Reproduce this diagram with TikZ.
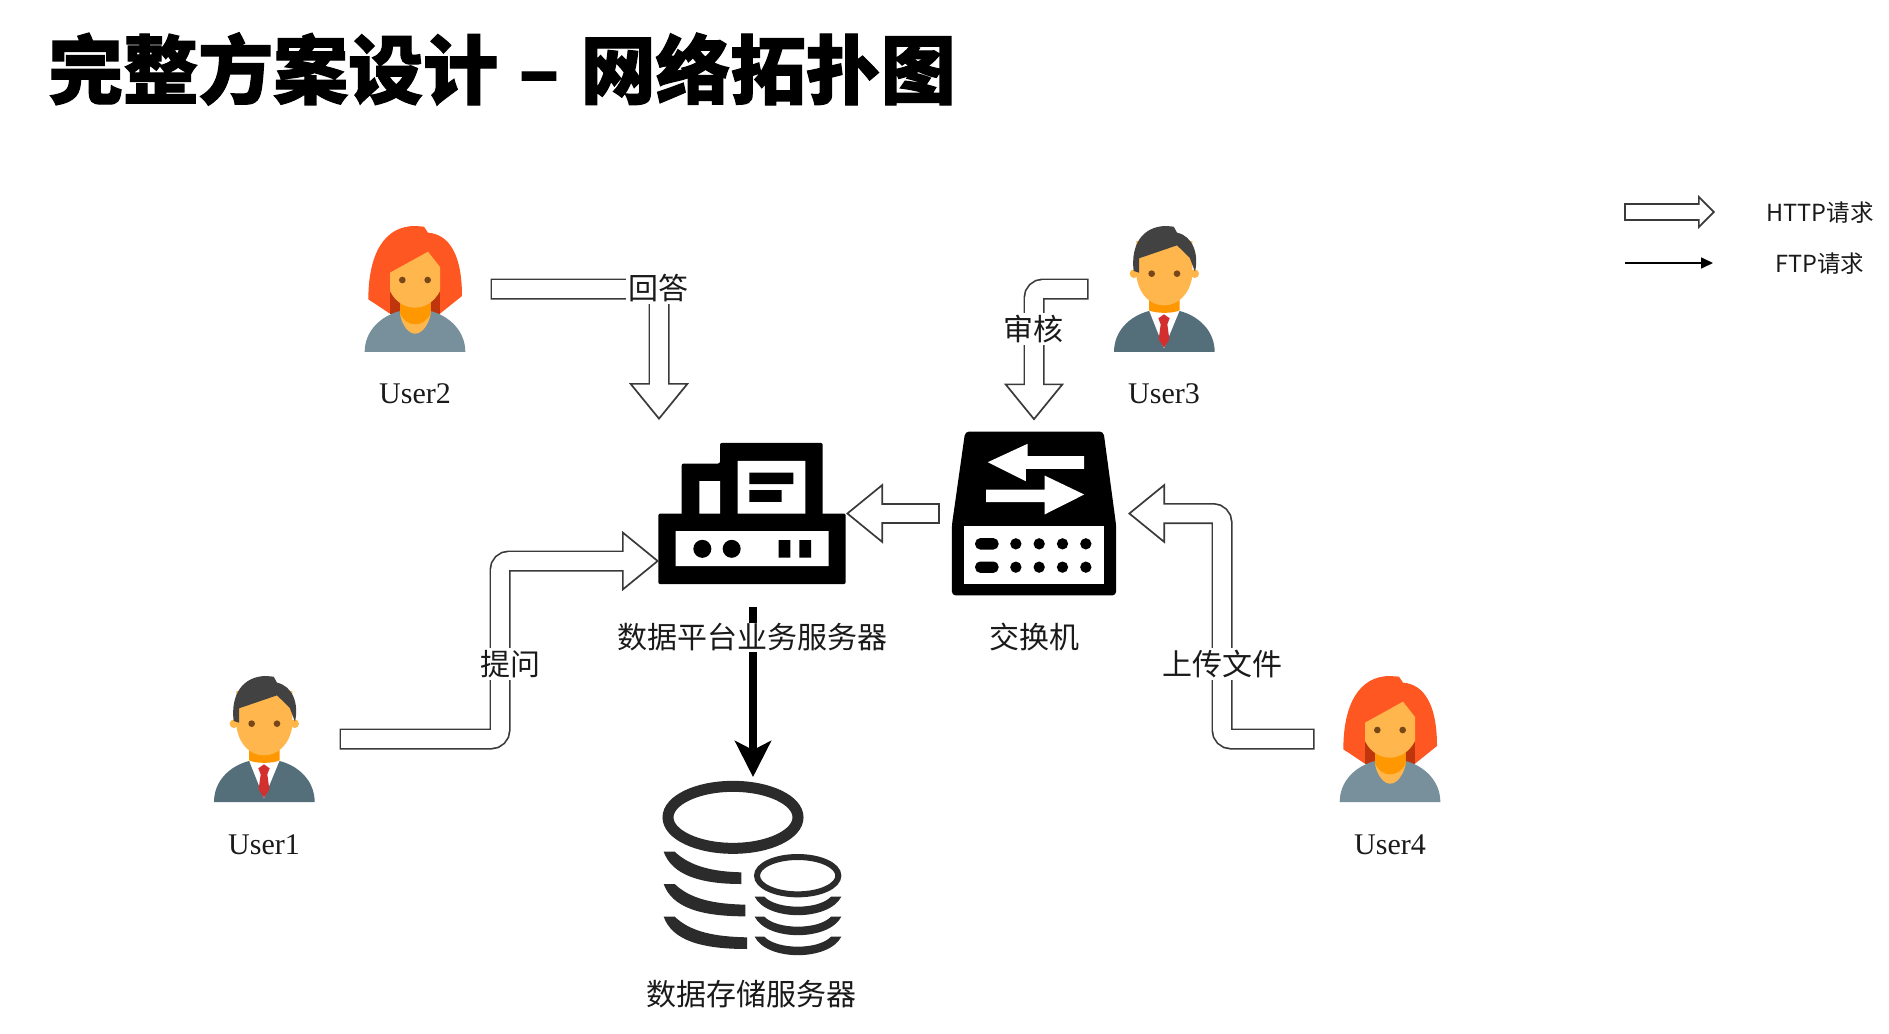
\documentclass[tikz,border=0pt]{standalone}
\usepackage{fontspec}
\setmainfont{Liberation Serif}
\newfontfamily\cjkfont[BoldFeatures={FakeBold=1.5}]{Noto Sans CJK SC}
\usepackage{tikz}
\usetikzlibrary{arrows.meta,positioning}
\definecolor{inkcol}{HTML}{1A1A1A}
\definecolor{linecol}{HTML}{3A3A3A}
\definecolor{skincol}{HTML}{FFB74D}
\definecolor{neckcol}{HTML}{FF9800}
\definecolor{eyecol}{HTML}{784719}
\definecolor{storecol}{HTML}{2B2B2B}

\tikzset{
  iconbox/.style={minimum width=101pt, minimum height=126pt, inner sep=0pt, outer xsep=25pt},
  devicebox/.style={inner sep=0pt, outer xsep=12pt, outer ysep=11pt},
  userlbl/.style={font=\fontsize{30}{32}\selectfont, text=inkcol, inner sep=0pt},
  devlbl/.style={font=\cjkfont\fontsize{30}{32}\selectfont, text=inkcol, fill=white, inner xsep=2pt, inner ysep=2pt},
  leglbl/.style={font=\cjkfont\fontsize{23.5}{28}\selectfont, text=inkcol, inner sep=0pt},
  flexbase/.style n args={4}{draw=linecol, rounded corners=9pt, line width=#1, line cap=butt,
    -{Triangle[length=#3, width=#4, fill=white, line width=1.7pt]},
    postaction={draw=white, -, line width=#2, shorten <=1.7pt, shorten >=#3-4pt}},
  flexarrow/.style={flexbase={21pt}{17.6pt}{37pt}{60pt}},
  flexleg/.style={flexbase={18pt}{14.2pt}{17pt}{34pt}},
  dataarrow/.style={draw=black, line width=7.5pt, -{Stealth[length=36pt, width=36pt, inset=9pt]}},
  ftpleg/.style={draw=black, line width=1.6pt, -{Triangle[length=12pt, width=11pt]}},
  manicon/.pic={
    \begin{scope}[x=0.3333pt, y=-0.3333pt, shift={(-193,-234)}]
      \fill[color=skincol!92!neckcol] (103,188) circle (13) (285,188) circle (13);
      \fill[color={rgb,255:red,84;green,110;blue,122}] (43,423) .. controls (43,360) and (90,315) .. (148,300) -- (240,300) .. controls (298,315) and (345,360) .. (345,423) -- cycle;
      \fill[white] (148,298) -- (240,298) -- (193,412) -- cycle;
      \fill[neckcol] (148,262) -- (240,262) -- (240,298) .. controls (220,308) and (168,308) .. (148,298) -- cycle;
      \fill[color={rgb,255:red,211;green,47;blue,47}] (176,322) -- (193,310) -- (210,322) -- (203,340) -- (209,385) -- (193,410) -- (177,385) -- (183,340) -- cycle;
      \fill[skincol] (110,90) -- (278,90) -- (278,195) .. controls (270,250) and (235,283) .. (193,283) .. controls (150,283) and (118,250) .. (110,195) -- cycle;
      \fill[color={rgb,255:red,66;green,66;blue,66}] (102,180) .. controls (92,100) and (130,45) .. (200,45) -- (222,47) -- (232,65) .. controls (280,75) and (298,130) .. (286,182) -- (270,140) -- (232,103) -- (118,142) -- (118,185) -- cycle;
      \foreach \ex in {156,232}
        \fill[eyecol] (\ex,188) circle (10);
    \end{scope}
  },
  womanicon/.pic={
    \begin{scope}[x=0.3333pt, y=-0.3333pt, shift={(-223,-234)}]
      \fill[color={rgb,255:red,255;green,87;blue,34}] (83,265) .. controls (83,130) and (130,45) .. (223,45) -- (250,47) -- (262,65) .. controls (325,70) and (364,130) .. (364,255) -- (298,308) -- (148,308) -- cycle;
      \fill[color={rgb,255:red,191;green,54;blue,12}] (148,240) -- (148,308) -- (298,308) -- (298,240) -- cycle;
      \fill[color={rgb,255:red,120;green,144;blue,156}] (72,423) .. controls (72,360) and (120,315) .. (178,300) -- (270,300) .. controls (326,315) and (374,360) .. (374,423) -- cycle;
      \fill[skincol] (178,270) -- (178,310) .. controls (185,345) and (205,368) .. (223,368) .. controls (243,368) and (262,345) .. (270,310) -- (270,270) -- cycle;
      \fill[neckcol] (178,275) -- (178,308) .. controls (190,330) and (205,340) .. (223,340) .. controls (243,340) and (258,330) .. (270,308) -- (270,275) -- cycle;
      \fill[skincol] (148,185) -- (262,122) -- (298,168) -- (298,240) .. controls (280,275) and (250,290) .. (223,290) .. controls (195,290) and (165,275) .. (148,240) -- cycle;
      \foreach \ex in {185,261}
        \fill[eyecol] (\ex,207) circle (10);
    \end{scope}
  },
  servericon/.pic={
    \begin{scope}[x=0.3333pt, y=-0.3333pt, shift={(-336,-280)}]
      \fill[black, rounded corners=2pt] (125,290) -- (125,130) -- (240,130) -- (240,68) -- (548,68) -- (548,290) -- cycle;
      \fill[black, rounded corners=2pt] (55,280) rectangle (617,492);
      \fill[white] (178,183) rectangle (240,280) (293,122) rectangle (496,280) (107,333) rectangle (566,438);
      \fill[black] (328,157) rectangle (460,192) (328,210) rectangle (425,245);
      \fill[black] (187,386) circle (27) (275,386) circle (27);
      \fill[black] (416,360) rectangle (451,412) (478,360) rectangle (513,412);
    \end{scope}
  },
  switchicon/.pic={
    \begin{scope}[x=0.3333pt, y=-0.3333pt, shift={(-1181.5,-279)}]
      \fill[black, rounded corners=4pt] (975,33) -- (1390,33) -- (1428,315) -- (1428,525) -- (935,525) -- (935,315) -- cycle;
      \fill[white] (970,317) rectangle (1392,492);
      \fill[white] (1332,107) -- (1162,107) -- (1162,70) -- (1043,125) -- (1157,182) -- (1157,145) -- (1332,145) -- cycle;
      \fill[white] (1038,207) -- (1213,207) -- (1213,165) -- (1332,222) -- (1213,282) -- (1213,245) -- (1038,245) -- cycle;
      \foreach \py in {370,440} {
        \fill[black, rounded corners=5pt] (1005,\py-17) rectangle (1075,\py+17);
        \foreach \px in {1127,1197,1267,1337}
          \fill[black] (\px,\py) circle (17);
      }
    \end{scope}
  },
  storageicon/.pic={
    \begin{scope}[x=0.3333pt, y=-0.3333pt, shift={(-333.5,-327)}]
      \draw[storecol, line width=11pt] (278,172) ellipse (195 and 93);
      \draw[storecol, line width=6pt] (472,347) ellipse (122 and 56);
      \foreach \cy/\ex in {0/303,97/315,195/320}
        \fill[storecol] (70,275+\cy) -- (103,275+\cy) .. controls (150,320+\cy) and (220,335+\cy) .. (\ex,337+\cy) -- (\ex,372+\cy) .. controls (180,372+\cy) and (95,345+\cy) .. (70,275+\cy) -- cycle;
      \foreach \cy in {0,60,120}
        \fill[storecol] (343,410+\cy) -- (372,410+\cy) .. controls (410,450+\cy) and (535,450+\cy) .. (572,410+\cy) -- (603,410+\cy) .. controls (565,484+\cy) and (380,484+\cy) .. (343,410+\cy) -- cycle;
    \end{scope}
  }
}

\begin{document}
\begin{tikzpicture}[x=1pt, y=-1pt]

  \path[use as bounding box, fill=white] (0,0) rectangle (1889,1033);

  \node[anchor=west, inner sep=0pt, text=black, font=\cjkfont\bfseries\fontsize{75}{80}\selectfont] (title) at (48,69) {完整方案设计\kern3pt{} – \kern4pt{}网络拓扑图};

  \node[iconbox] (user1) at (264,739) {};
  \node[iconbox] (user2) at (415,289) {};
  \node[iconbox] (user3) at (1164,289) {};
  \node[iconbox] (user4) at (1390,739) {};
  \node[devicebox, minimum width=188pt, minimum height=141pt, outer xsep=0pt] (server) at (752,513.5) {};
  \node[devicebox, minimum width=164pt, minimum height=164pt] (switch) at (1034,513.5) {};
  \node[inner sep=0pt, minimum width=179pt, minimum height=176pt, outer ysep=4pt] (storage) at (753,869) {};

  \pic at (user1) {manicon};
  \pic at (user2) {womanicon};
  \pic at (user3) {manicon};
  \pic at (user4) {womanicon};
  \pic at (server) {servericon};
  \pic at (switch) {switchicon};
  \pic at ([xshift=-1.5pt]storage.center) {storageicon};

  \coordinate (replyin) at (659,420);
  \coordinate (askbend) at (500,739);
  \coordinate (askin) at (659,561);
  \coordinate (uploadbend) at (1222,739);

  \draw[flexarrow] (user2.east) -| (replyin);
  \draw[flexarrow] (user3.west) -| (switch.north);
  \draw[flexarrow] (user1.east) -- (askbend) |- (askin);
  \draw[flexarrow] (user4.west) -- (uploadbend) |- (switch.east);
  \draw[flexarrow] (switch.west) -- (server.east);
  \draw[dataarrow, shorten <=12pt] ([xshift=1pt]server.south) -- (storage.north);

  \node[devlbl] (replylbl) at (658,288) {回答};
  \node[devlbl] (reviewlbl) at (1033,329) {审核};
  \node[devlbl] (asklbl) at (510,664) {提问};
  \node[devlbl] (uploadlbl) at (1222,664) {上传文件};
  \node[devlbl, inner ysep=0pt, text height=26pt, text depth=3pt] (serverlbl) at (752,637) {数据平台业务服务器};
  \node[devlbl] (switchlbl) at (1034,637) {交换机};
  \node[devlbl] (storagelbl) at (751,994) {数据存储服务器};

  \node[userlbl] (user1lbl) at (264,845) {User1};
  \node[userlbl] (user2lbl) at (415,394) {User2};
  \node[userlbl] (user3lbl) at (1164,394) {User3};
  \node[userlbl] (user4lbl) at (1390,845) {User4};

  \node[leglbl] (httplbl) at (1820,213) {HTTP请求};
  \node[leglbl] (ftplbl) at (1820,264) {FTP请求};
  \coordinate (httpfrom) at (1624,212);
  \coordinate (httpto) at (1715,212);
  \coordinate (ftpfrom) at (1625,263);
  \coordinate (ftpto) at (1713,263);
  \draw[flexleg] (httpfrom) -- (httpto);
  \draw[ftpleg] (ftpfrom) -- (ftpto);

\end{tikzpicture}
\end{document}
